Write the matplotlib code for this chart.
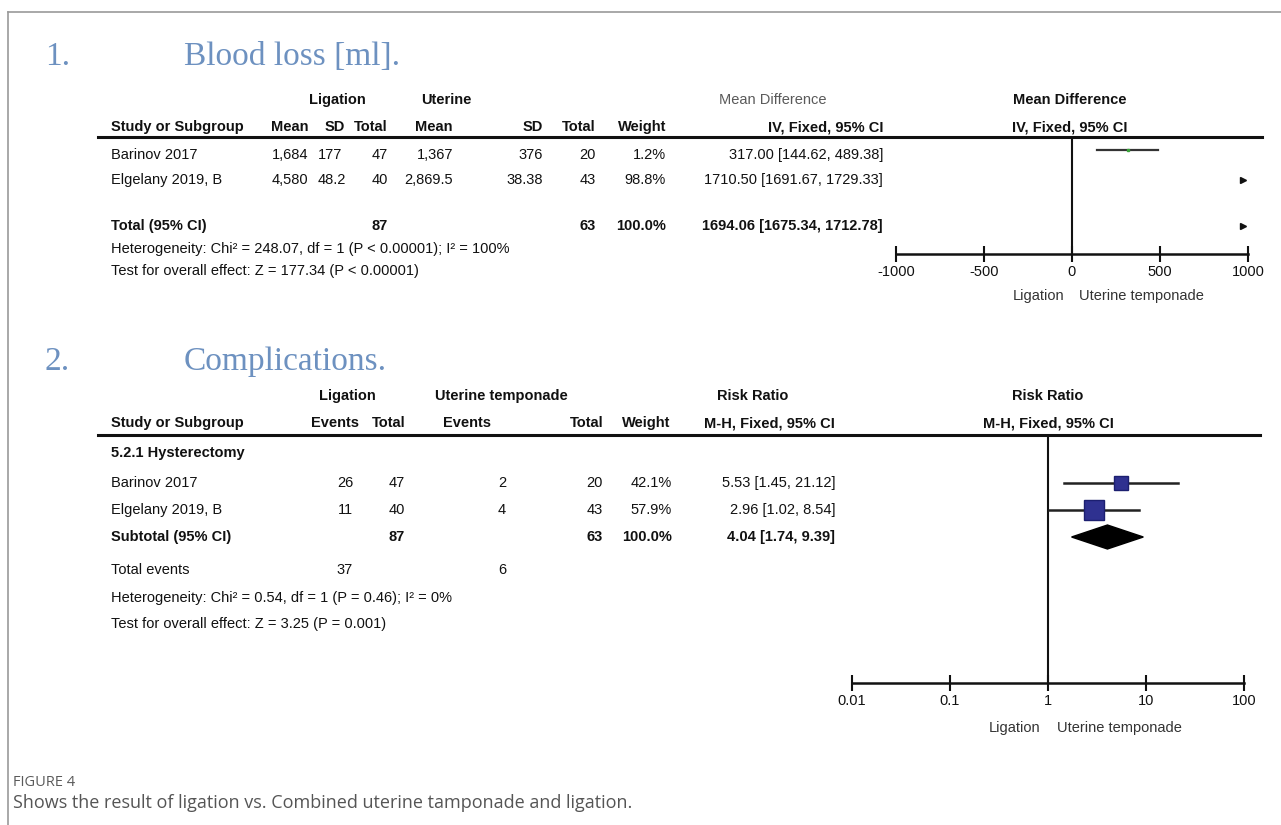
import matplotlib
matplotlib.use("Agg")
import matplotlib.pyplot as plt
import numpy as np

W, H = 1281, 825

# 1. blood loss
bl_studies = ["Barinov 2017", "Elgelany 2019, B"]
bl_lig_mean = ["1,684", "4,580"]
bl_lig_sd = ["177", "48.2"]
bl_lig_n = [47, 40]
bl_ut_mean = ["1,367", "2,869.5"]
bl_ut_sd = ["376", "38.38"]
bl_ut_n = [20, 43]
bl_weight = [1.2, 98.8]
bl_md = [317.00, 1710.50]
bl_lo = [144.62, 1691.67]
bl_hi = [489.38, 1729.33]
bl_total = [1694.06, 1675.34, 1712.78]
bl_ticks = [-1000, -500, 0, 500, 1000]
bl_het = "Heterogeneity: Chi\u00b2 = 248.07, df = 1 (P < 0.00001); I\u00b2 = 100%"
bl_test = "Test for overall effect: Z = 177.34 (P < 0.00001)"

# 2. complications
cp_group = "5.2.1 Hysterectomy"
cp_studies = ["Barinov 2017", "Elgelany 2019, B"]
cp_lig_ev = [26, 11]
cp_lig_n = [47, 40]
cp_ut_ev = [2, 4]
cp_ut_n = [20, 43]
cp_weight = [42.1, 57.9]
cp_rr = [5.53, 2.96]
cp_lo = [1.45, 1.02]
cp_hi = [21.12, 8.54]
cp_sub = [4.04, 1.74, 9.39]
cp_ticks = [0.01, 0.1, 1, 10, 100]
cp_tick_labels = ["0.01", "0.1", "1", "10", "100"]
cp_het = "Heterogeneity: Chi\u00b2 = 0.54, df = 1 (P = 0.46); I\u00b2 = 0%"
cp_test = "Test for overall effect: Z = 3.25 (P = 0.001)"

caption_head = "FIGURE 4"
caption = "Shows the result of ligation vs. Combined uterine tamponade and ligation."

TFONT, FS = "Liberation Sans", 10.5
INK = "#111111"
TITLE = "#6d91c0"

fig = plt.figure(figsize=(W / 100, H / 100), dpi=100)
base = fig.add_axes([0, 0, 1, 1])
base.set_xlim(0, W)
base.set_ylim(H, 0)
base.axis("off")


def txt(x, y, s, ha="left", bold=False, color=INK):
    base.text(x, y, s, ha=ha, va="center", fontsize=FS,
              fontweight="bold" if bold else "normal", family=TFONT, color=color)


def px_axes(x0, x1, y0, y1):
    return fig.add_axes([x0 / W, 1 - y1 / H, (x1 - x0) / W, (y1 - y0) / H])


def style_axis(ax, ticks, labels):
    for side in ["top", "left", "right"]:
        ax.spines[side].set_visible(False)
    ax.spines["bottom"].set_linewidth(1.8)
    ax.spines["bottom"].set_color(INK)
    ax.set_yticks([])
    ax.set_xticks(ticks)
    ax.set_xticklabels(labels)
    ax.minorticks_off()
    ax.tick_params(axis="x", direction="inout", length=12, width=1.5,
                   labelsize=FS, pad=2, colors=INK)
    for lab in ax.get_xticklabels():
        lab.set_family(TFONT)
    ax.patch.set_alpha(0)


# frame
base.plot([8, W], [12, 12], color="#9a9a9a", lw=1.2)
base.plot([8, 8], [12, H], color="#9a9a9a", lw=1.2)

# ---------- panel 1 ----------
base.text(45, 57, "1.", fontsize=24, family="Liberation Serif", color=TITLE, va="center")
base.text(184, 57, "Blood loss [ml].", fontsize=24, family="Liberation Serif", color=TITLE, va="center")

txt(337, 100, "Ligation", ha="center", bold=True)
txt(446, 100, "Uterine", ha="center", bold=True)
txt(773, 100, "Mean Difference", ha="center", color="#5a5a5a")
txt(1070, 100, "Mean Difference", ha="center", bold=True)

h = 127
txt(111, h, "Study or Subgroup", bold=True)
for x, s in [(308, "Mean"), (345, "SD"), (388, "Total"), (453, "Mean"),
             (543, "SD"), (596, "Total"), (666, "Weight"), (883, "IV, Fixed, 95% CI")]:
    txt(x, h, s, ha="right", bold=True)
txt(1070, h, "IV, Fixed, 95% CI", ha="center", bold=True)
base.plot([98, 1262], [137, 137], color=INK, lw=2.2)

rows1 = [155, 180]
for i, y in enumerate(rows1):
    txt(111, y, bl_studies[i])
    txt(308, y, bl_lig_mean[i], ha="right")
    txt(318, y, bl_lig_sd[i])
    txt(388, y, str(bl_lig_n[i]), ha="right")
    txt(453, y, bl_ut_mean[i], ha="right")
    txt(543, y, bl_ut_sd[i], ha="right")
    txt(596, y, str(bl_ut_n[i]), ha="right")
    txt(666, y, f"{bl_weight[i]:.1f}%", ha="right")
    txt(883, y, f"{bl_md[i]:.2f} [{bl_lo[i]:.2f}, {bl_hi[i]:.2f}]", ha="right")

yt = 226
txt(111, yt, "Total (95% CI)", bold=True)
txt(388, yt, str(sum(bl_lig_n)), ha="right", bold=True)
txt(596, yt, str(sum(bl_ut_n)), ha="right", bold=True)
txt(666, yt, f"{sum(bl_weight):.1f}%", ha="right", bold=True)
txt(883, yt, f"{bl_total[0]:.2f} [{bl_total[1]:.2f}, {bl_total[2]:.2f}]", ha="right", bold=True)
txt(111, 249, bl_het)
txt(111, 271, bl_test)

ax1 = px_axes(896, 1248, 137, 254)
ax1.set_xlim(-1000, 1000)
ax1.set_ylim(254, 137)
style_axis(ax1, bl_ticks, [str(t) for t in bl_ticks])
ax1.axvline(0, color=INK, lw=1.5)
xmax1 = 1000 * 0.97
for md, lo, hi, y in zip(bl_md + [bl_total[0]], bl_lo + [bl_total[1]],
                         bl_hi + [bl_total[2]], rows1 + [yt]):
    if lo > 1000:
        # estimate beyond the scale: arrow at the right edge
        ax1.plot(xmax1, y, marker=">", color=INK, ms=5, clip_on=False)
    else:
        ax1.plot([lo, hi], [y - 5, y - 5], color="#333333", lw=1.6)
        ax1.plot(md, y - 5, "s", color="#3aa33a", ms=2)
txt(1064, 296, "Ligation", ha="right", color="#333333")
txt(1079, 296, "Uterine temponade", color="#333333")

# ---------- panel 2 ----------
base.text(45, 362, "2.", fontsize=24, family="Liberation Serif", color=TITLE, va="center")
base.text(184, 362, "Complications.", fontsize=24, family="Liberation Serif", color=TITLE, va="center")

txt(347, 396, "Ligation", ha="center", bold=True)
txt(501, 396, "Uterine temponade", ha="center", bold=True)
txt(753, 396, "Risk Ratio", ha="center", bold=True)
txt(1048, 396, "Risk Ratio", ha="center", bold=True)

h = 423
txt(111, h, "Study or Subgroup", bold=True)
for x, s in [(359, "Events"), (405, "Total"), (603, "Total"), (670, "Weight"),
             (835, "M-H, Fixed, 95% CI")]:
    txt(x, h, s, ha="right", bold=True)
txt(467, h, "Events", ha="center", bold=True)
txt(1048, h, "M-H, Fixed, 95% CI", ha="center", bold=True)
base.plot([98, 1260], [435, 435], color=INK, lw=2.2)

txt(111, 453, cp_group, bold=True)
rows2 = [483, 510]
for i, y in enumerate(rows2):
    txt(111, y, cp_studies[i])
    txt(353, y, str(cp_lig_ev[i]), ha="right")
    txt(405, y, str(cp_lig_n[i]), ha="right")
    txt(506, y, str(cp_ut_ev[i]), ha="right")
    txt(603, y, str(cp_ut_n[i]), ha="right")
    txt(672, y, f"{cp_weight[i]:.1f}%", ha="right")
    txt(835, y, f"{cp_rr[i]:.2f} [{cp_lo[i]:.2f}, {cp_hi[i]:.2f}]", ha="right")

ys = 537
txt(111, ys, "Subtotal (95% CI)", bold=True)
txt(405, ys, str(sum(cp_lig_n)), ha="right", bold=True)
txt(603, ys, str(sum(cp_ut_n)), ha="right", bold=True)
txt(672, ys, f"{sum(cp_weight):.1f}%", ha="right", bold=True)
txt(835, ys, f"{cp_sub[0]:.2f} [{cp_sub[1]:.2f}, {cp_sub[2]:.2f}]", ha="right", bold=True)
txt(111, 570, "Total events")
txt(353, 570, str(sum(cp_lig_ev)), ha="right")
txt(506, 570, str(sum(cp_ut_ev)), ha="right")
txt(111, 598, cp_het)
txt(111, 624, cp_test)

ax2 = px_axes(852, 1244, 435, 683)
ax2.set_xscale("log")
ax2.set_xlim(0.01, 100)
ax2.set_ylim(683, 435)
style_axis(ax2, cp_ticks, cp_tick_labels)
ax2.axvline(1, color=INK, lw=1.5)
for rr, lo, hi, w, y in zip(cp_rr, cp_lo, cp_hi, cp_weight, rows2):
    ax2.plot([lo, hi], [y, y], color="#222222", lw=1.8)
    ax2.plot(rr, y, "s", color="#2f3190", mec="#1c1f70", ms=0.24 * w)
est, lo, hi = cp_sub
ax2.fill([lo, est, hi, est], [ys, ys - 12, ys, ys + 12], color="black")
txt(1040, 728, "Ligation", ha="right", color="#333333")
txt(1057, 728, "Uterine temponade", color="#333333")

# caption
base.text(13, 782, caption_head, fontsize=10.5, family="Open Sans", color="#5a5a5a", va="center")
base.text(13, 803, caption, fontsize=13, family="Open Sans", color="#555555", va="center")

fig.savefig("out.png", dpi=100)
